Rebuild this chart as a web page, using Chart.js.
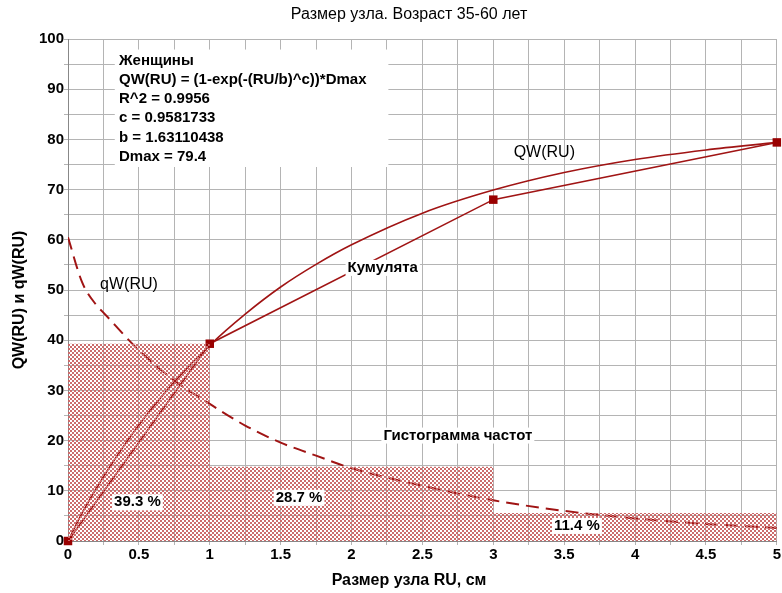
<!DOCTYPE html>
<html lang="ru">
<head>
<meta charset="UTF-8">
<title>Размер узла</title>
<script src="https://cdn.jsdelivr.net/npm/chart.js@4.4.1/dist/chart.umd.min.js"></script>
<style>
  html, body { margin: 0; padding: 0; background: #fff; }
  #wrap { width: 782px; height: 593px; }
</style>
</head>
<body>
<div id="wrap"><canvas id="myChart" width="782" height="593"></canvas></div>
<script>
// гистограмма частот
const binEdges = [0, 1, 3, 5];
const binHeights = [39.3, 14.8, 5.6];
const binPercents = ['39.3 %', '28.7 %', '11.4 %'];

// кумулята
const cumX = [0, 1, 3, 5];
const cumY = [0, 39.3, 68.0, 79.4];

// QW(RU) - сглаженная кривая
const qwX = [0, 0.1, 0.25, 0.5, 0.75, 1, 1.25, 1.5, 1.75, 2, 2.5, 3, 3.5, 4, 4.5, 5];
const qwY = [0, 5.6, 12.8, 23.1, 31.7, 39.0, 45.2, 50.6, 55.1, 59.0, 65.3, 69.9, 73.4, 76.0, 77.9, 79.4];

// qW(RU) - пунктир
const qdX = [0, 0.1, 0.2, 0.25, 0.5, 0.75, 1, 1.25, 1.5, 1.75, 2, 2.5, 3, 3.5, 4, 4.5, 5];
const qdY = [60.5, 51.5, 47, 45.5, 38, 32, 27.3, 23, 19.6, 17, 14.5, 11, 8.1, 6, 4.5, 3.4, 2.6];

const infoLines = ['Женщины', 'QW(RU) = (1-exp(-(RU/b)^c))*Dmax', 'R^2 = 0.9956',
                   'c = 0.9581733', 'b = 1.63110438', 'Dmax = 79.4'];

const FONT = "'Liberation Sans', Arial, sans-serif";
const RED = '#a01414';

// штриховка
const pc = document.createElement('canvas');
pc.width = 4; pc.height = 4;
const pg = pc.getContext('2d');
pg.fillStyle = '#cc6b6b';
pg.fillRect(0, 0, 2, 2);
pg.fillRect(2, 2, 2, 2);
const hatch = pg.createPattern(pc, 'repeat');

const histData = binEdges.map((e, i) => ({ x: e, y: binHeights[Math.min(i, binHeights.length - 1)] }));
const pts = (xs, ys) => xs.map((x, i) => ({ x: x, y: ys[i] }));

// подписи на поле графика
const notes = [
  { text: 'QW(RU)', x: 3.36, y: 77.3, bold: false, box: false },
  { text: 'Кумулята', x: 2.22, y: 54.4, bold: true, box: true },
  { text: 'qW(RU)', x: 0.43, y: 51, bold: false, box: false },
  { text: 'Гистограмма частот', x: 2.75, y: 21, bold: true, box: true },
  { text: binPercents[0], x: 0.49, y: 7.7, bold: true, box: true },
  { text: binPercents[1], x: 1.63, y: 8.6, bold: true, box: true },
  { text: binPercents[2], x: 3.59, y: 3.0, bold: true, box: true }
];

const notesPlugin = {
  id: 'notes',
  afterDatasetsDraw(chart) {
    const ctx = chart.ctx, xs = chart.scales.x, ys = chart.scales.y;
    ctx.save();
    ctx.textBaseline = 'middle';
    ctx.textAlign = 'center';
    notes.forEach(n => {
      ctx.font = (n.bold ? 'bold 15px ' : '16px ') + FONT;
      const px = xs.getPixelForValue(n.x), py = ys.getPixelForValue(n.y);
      const w = ctx.measureText(n.text).width;
      if (n.box) {
        ctx.fillStyle = '#fff';
        ctx.fillRect(px - w / 2 - 2, py - 8, w + 4, 16);
      }
      ctx.fillStyle = '#000';
      ctx.fillText(n.text, px, py);
    });

    // блок с формулой
    const bx0 = xs.getPixelForValue(0.33), bx1 = xs.getPixelForValue(2.26);
    const by0 = ys.getPixelForValue(97.9), by1 = ys.getPixelForValue(74.5);
    ctx.fillStyle = '#fff';
    ctx.fillRect(bx0, by0, bx1 - bx0, by1 - by0);
    ctx.fillStyle = '#000';
    ctx.textAlign = 'left';
    ctx.font = 'bold 15px ' + FONT;
    const lx = xs.getPixelForValue(0.36);
    const ly = ys.getPixelForValue(95.7);
    infoLines.forEach((t, i) => ctx.fillText(t, lx, ly + i * 19.2));

    // заголовки
    ctx.textAlign = 'center';
    ctx.font = '16px ' + FONT;
    ctx.fillText('Размер узла. Возраст 35-60 лет', 409, 15);
    ctx.font = 'bold 16px ' + FONT;
    ctx.fillText('Размер узла RU, см', 409, 581);
    ctx.translate(20, 300);
    ctx.rotate(-Math.PI / 2);
    ctx.fillText('QW(RU) и qW(RU)', 0, 0);
    ctx.restore();
  }
};

const ctx = document.getElementById('myChart').getContext('2d');
new Chart(ctx, {
  type: 'scatter',
  data: {
    datasets: [
      {
        data: histData, showLine: true, stepped: true, fill: 'origin',
        backgroundColor: hatch, borderWidth: 0, pointRadius: 0
      },
      {
        data: pts(qdX, qdY), showLine: true, borderColor: RED, borderWidth: 2,
        borderDash: [13, 7], cubicInterpolationMode: 'monotone', pointRadius: 0, fill: false
      },
      {
        data: pts(cumX, cumY), showLine: true, borderColor: RED, borderWidth: 1.6,
        pointStyle: 'rect', pointRadius: 6, pointBackgroundColor: '#990000',
        pointBorderColor: '#990000', pointBorderWidth: 0, clip: false, fill: false
      },
      {
        data: pts(qwX, qwY), showLine: true, borderColor: RED, borderWidth: 1.6,
        cubicInterpolationMode: 'monotone', pointRadius: 0, fill: false
      }
    ]
  },
  options: {
    responsive: false,
    animation: false,
    layout: { autoPadding: false, padding: { top: 39, right: 0, left: 0, bottom: 0 } },
    plugins: { legend: { display: false }, tooltip: { enabled: false }, title: { display: false } },
    scales: {
      x: {
        type: 'linear', min: 0, max: 5,
        afterFit: s => { s.height = 52; },
        grid: { color: '#b4b4b4', lineWidth: 1, tickLength: 4 },
        border: { color: '#888' },
        ticks: {
          stepSize: 0.25, autoSkip: false, maxRotation: 0, padding: 1, color: '#000',
          font: { family: FONT, size: 15, weight: 'bold' },
          callback: v => Math.abs(v * 2 - Math.round(v * 2)) < 1e-6 ? String(v) : ''
        }
      },
      y: {
        min: 0, max: 100,
        afterFit: s => { s.width = 68; },
        grid: { color: '#b4b4b4', lineWidth: 1, tickLength: 4 },
        border: { color: '#888' },
        ticks: {
          stepSize: 5, autoSkip: false, padding: 0, color: '#000',
          font: { family: FONT, size: 15, weight: 'bold' },
          callback: v => v % 10 === 0 ? v : ''
        }
      }
    }
  },
  plugins: [notesPlugin]
});
</script>
</body>
</html>
